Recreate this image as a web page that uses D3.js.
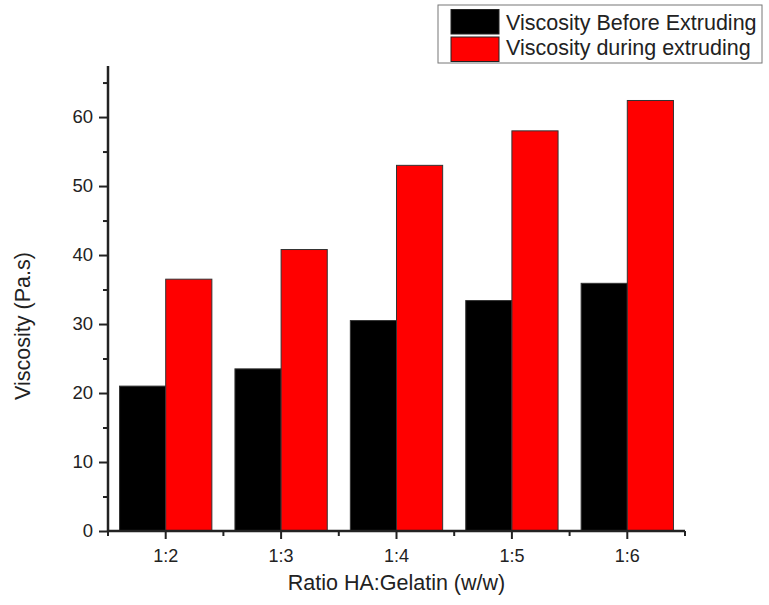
<!DOCTYPE html>
<html><head><meta charset="utf-8">
<script src="https://cdn.jsdelivr.net/npm/d3@7"></script>
<style>body{margin:0;background:#fff}svg{display:block}text{font-family:"Liberation Sans",Arial,sans-serif;fill:#222}</style>
</head><body>
<script>
const categories = ["1:2","1:3","1:4","1:5","1:6"];
const seriesNames = ["Viscosity Before Extruding","Viscosity during extruding"];
const before = [21.0, 23.5, 30.5, 33.4, 35.9];
const during = [36.5, 40.8, 53.0, 58.0, 62.4];
const yTicks = [0,10,20,30,40,50,60];
const yMinor = [5,15,25,35,45,55,65];
const colors = ["#000000","#ff0000"];

const W=769,H=605;
const svg=d3.select("body").append("svg").attr("width",W).attr("height",H);
const pL=108,pR=685,pT=66,pB=531;
const x=d3.scaleBand().domain(categories).range([pL,pR]).paddingInner(0.2).paddingOuter(0.1);
const xs=d3.scaleBand().domain([0,1]).range([0,x.bandwidth()]);
const y=d3.scaleLinear().domain([0,67.4]).range([pB,pT]);
const data=[before,during];

categories.forEach((c,i)=>{
  data.forEach((s,j)=>{
    svg.append("rect").attr("x",x(c)+xs(j)).attr("y",y(s[i]))
      .attr("width",xs.bandwidth()).attr("height",y(0)-y(s[i]))
      .attr("fill",colors[j]).attr("stroke","#333").attr("stroke-width",1);
  });
});

// y axis
const ya=svg.append("g").attr("transform",`translate(${pL},0)`)
  .call(d3.axisLeft(y).tickValues(yTicks).tickSize(9).tickPadding(6).tickFormat(d3.format("d")));
ya.select(".domain").remove();
ya.selectAll("line").attr("stroke","#222").attr("stroke-width",2);
ya.selectAll("text").style("font-size","18.5px");
svg.append("g").attr("transform",`translate(${pL},0)`)
  .call(d3.axisLeft(y).tickValues(yMinor).tickSize(5).tickFormat(""))
  .call(g=>{g.select(".domain").remove();g.selectAll("line").attr("stroke","#222").attr("stroke-width",2);});
svg.append("line").attr("x1",pL).attr("x2",pL).attr("y1",pT).attr("y2",pB+1)
  .attr("stroke","#222").attr("stroke-width",2.5);

// x axis
const xa=svg.append("g").attr("transform",`translate(0,${pB})`)
  .call(d3.axisBottom(x).tickSize(8).tickPadding(6));
xa.select(".domain").remove();
xa.selectAll("line").attr("stroke","#222").attr("stroke-width",2);
xa.selectAll("text").style("font-size","18px").attr("y",31).attr("dy",null);
const step=x.step();
const minorX=[pL].concat(categories.map(c=>x(c)+x.bandwidth()/2+step/2));
svg.append("g").selectAll("line").data(minorX).join("line")
  .attr("x1",d=>d).attr("x2",d=>d).attr("y1",pB).attr("y2",pB+5)
  .attr("stroke","#222").attr("stroke-width",2);
svg.append("line").attr("x1",pL-1).attr("x2",pR).attr("y1",pB).attr("y2",pB)
  .attr("stroke","#222").attr("stroke-width",2.5);

// axis titles
svg.append("text").attr("x",(pL+pR)/2).attr("y",590).attr("text-anchor","middle")
  .style("font-size","21.5px").text("Ratio HA:Gelatin (w/w)");
svg.append("text").attr("transform","translate(30,326) rotate(-90)").attr("text-anchor","middle")
  .style("font-size","21.5px").text("Viscosity (Pa.s)");

// legend
const lg=svg.append("g");
lg.append("rect").attr("x",438).attr("y",5).attr("width",324).attr("height",58)
  .attr("fill","#fff").attr("stroke","#777").attr("stroke-width",1);
seriesNames.forEach((n,j)=>{
  lg.append("rect").attr("x",451).attr("y",9.5+j*27.5).attr("width",48).attr("height",24.5)
    .attr("fill",colors[j]).attr("stroke","#222").attr("stroke-width",1);
  lg.append("text").attr("x",506).attr("y",30+j*25).style("font-size","21.5px").text(n);
});
</script>
</body></html>
